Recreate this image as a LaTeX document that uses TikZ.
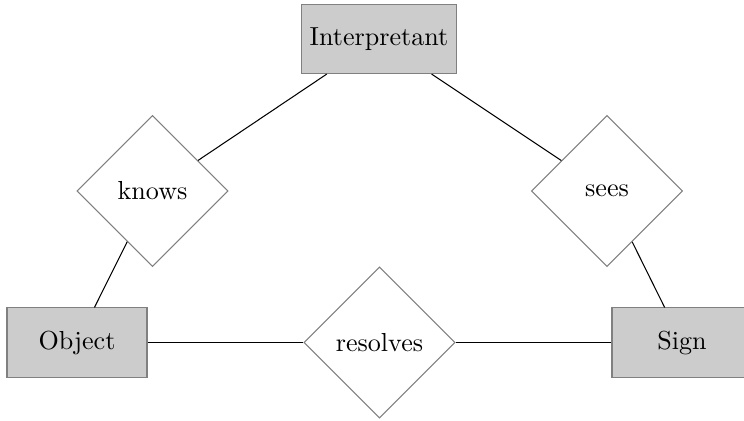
\documentclass[tikz,border=0pt]{standalone}
\usetikzlibrary{shapes.geometric}
\begin{document}
\begin{tikzpicture}[x=0.3835pt,y=-0.3835pt,
  entity/.style={rectangle,draw=gray,fill=black!20,
    minimum width=53.7pt,minimum height=26.5pt},
  relation/.style={diamond,aspect=1,draw=gray,fill=white,
    inner sep=1pt,minimum size=58pt},
  link/.style={draw=black}]
\useasboundingbox (0,0) rectangle (744,420);

% entities
\node[entity] (interp) at (379,39)    {Interpretant};
\node[entity] (object) at (77,342.5)  {Object};
\node[entity] (sign)   at (682,342.5) {Sign};

% relations
\node[relation] (knows)    at (152.5,191)   {knows};
\node[relation] (sees)     at (607,191)     {sees};
\node[relation] (resolves) at (379.5,342.5) {resolves};

% connectors
\draw[link] (interp) -- (knows);
\draw[link] (knows) -- (object);
\draw[link] (interp) -- (sees);
\draw[link] (sees) -- (sign);
\draw[link] (object) -- (resolves);
\draw[link] (resolves) -- (sign);
\end{tikzpicture}
\end{document}
